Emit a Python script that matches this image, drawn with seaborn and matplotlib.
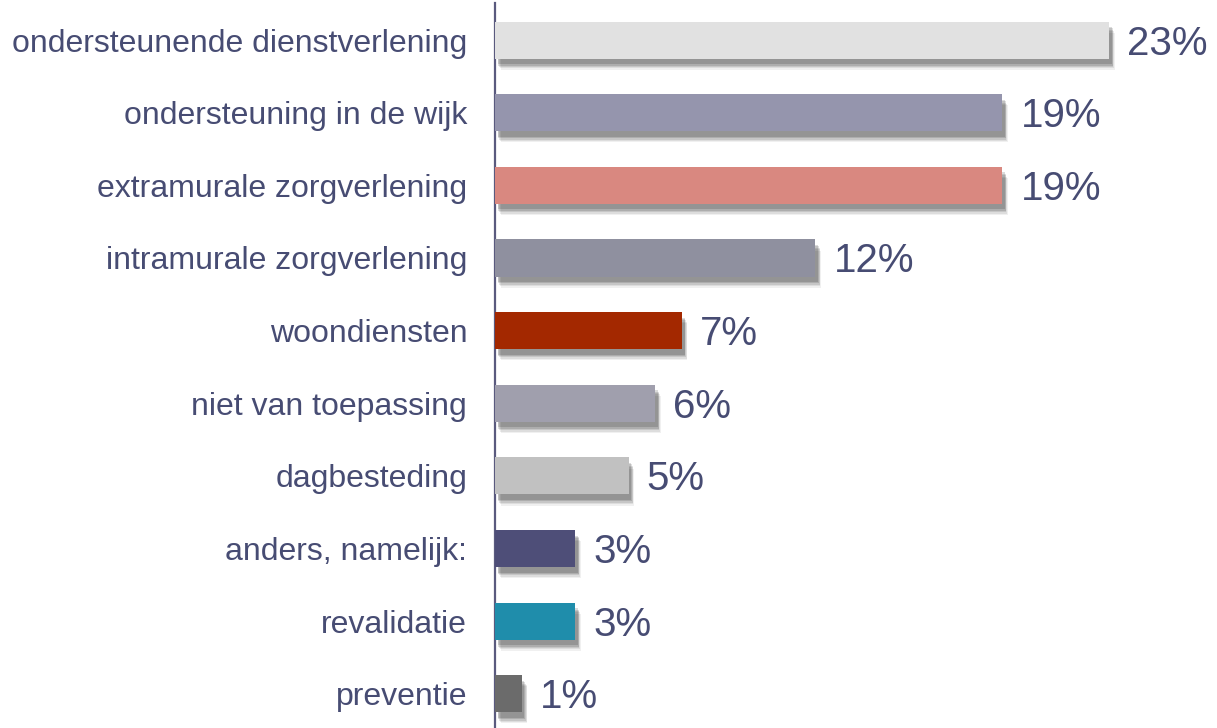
import matplotlib
matplotlib.use("Agg")
import matplotlib.pyplot as plt
import matplotlib.patheffects as pe
import seaborn as sns
import pandas as pd

# data
categories = [
    "ondersteunende dienstverlening",
    "ondersteuning in de wijk",
    "extramurale zorgverlening",
    "intramurale zorgverlening",
    "woondiensten",
    "niet van toepassing",
    "dagbesteding",
    "anders, namelijk:",
    "revalidatie",
    "preventie",
]
values = [23, 19, 19, 12, 7, 6, 5, 3, 3, 1]
labels = ["23%", "19%", "19%", "12%", "7%", "6%", "5%", "3%", "3%", "1%"]
colors = ["#E1E1E1", "#9595AD", "#D98880", "#8F909F", "#A32800",
          "#A09FAD", "#C1C1C1", "#4E4E78", "#1F8DAB", "#6B6B6B"]

text_color = "#474C73"

sns.set_theme(style="white")
plt.rcParams["font.family"] = ["Liberation Sans", "DejaVu Sans"]

df = pd.DataFrame({"category": categories, "value": values})

fig = plt.figure(figsize=(12.17, 7.28), dpi=100)
ax = fig.add_axes([495 / 1217, 0, 1 - 495 / 1217, 725 / 728])

sns.barplot(data=df, x="value", y="category", hue="category",
            palette=colors, legend=False, width=0.51, saturation=1,
            ax=ax, zorder=3)

# soft drop shadow under each bar, stacked layers fake the blur
shadow = [
    pe.SimplePatchShadow(offset=(4, -8), shadow_rgbFace="#000000", alpha=0.06),
    pe.SimplePatchShadow(offset=(3.5, -7), shadow_rgbFace="#000000", alpha=0.08),
    pe.SimplePatchShadow(offset=(3, -6), shadow_rgbFace="#000000", alpha=0.10),
    pe.SimplePatchShadow(offset=(2.5, -5), shadow_rgbFace="#000000", alpha=0.12),
    pe.SimplePatchShadow(offset=(2, -4), shadow_rgbFace="#000000", alpha=0.14),
    pe.Normal(),
]
for patch in ax.patches:
    patch.set_edgecolor("none")
    patch.set_path_effects(shadow)

for i, (v, lab) in enumerate(zip(values, labels)):
    ax.annotate(lab, xy=(v, i), xytext=(13, -2.5), textcoords="offset points",
                ha="left", va="center", fontsize=29, color=text_color)

ax.set_xlim(0, 27.04)
ax.set_ylim(9.47, -0.51)
ax.set_xlabel("")
ax.set_ylabel("")
ax.set_xticks([])
ax.tick_params(axis="y", length=0, pad=20, labelsize=23, labelcolor=text_color)

for side in ["top", "right", "bottom"]:
    ax.spines[side].set_visible(False)
ax.spines["left"].set_color("#5A5A7E")
ax.spines["left"].set_linewidth(1.6)
ax.set_facecolor("none")

fig.savefig("out.png", dpi=100)
